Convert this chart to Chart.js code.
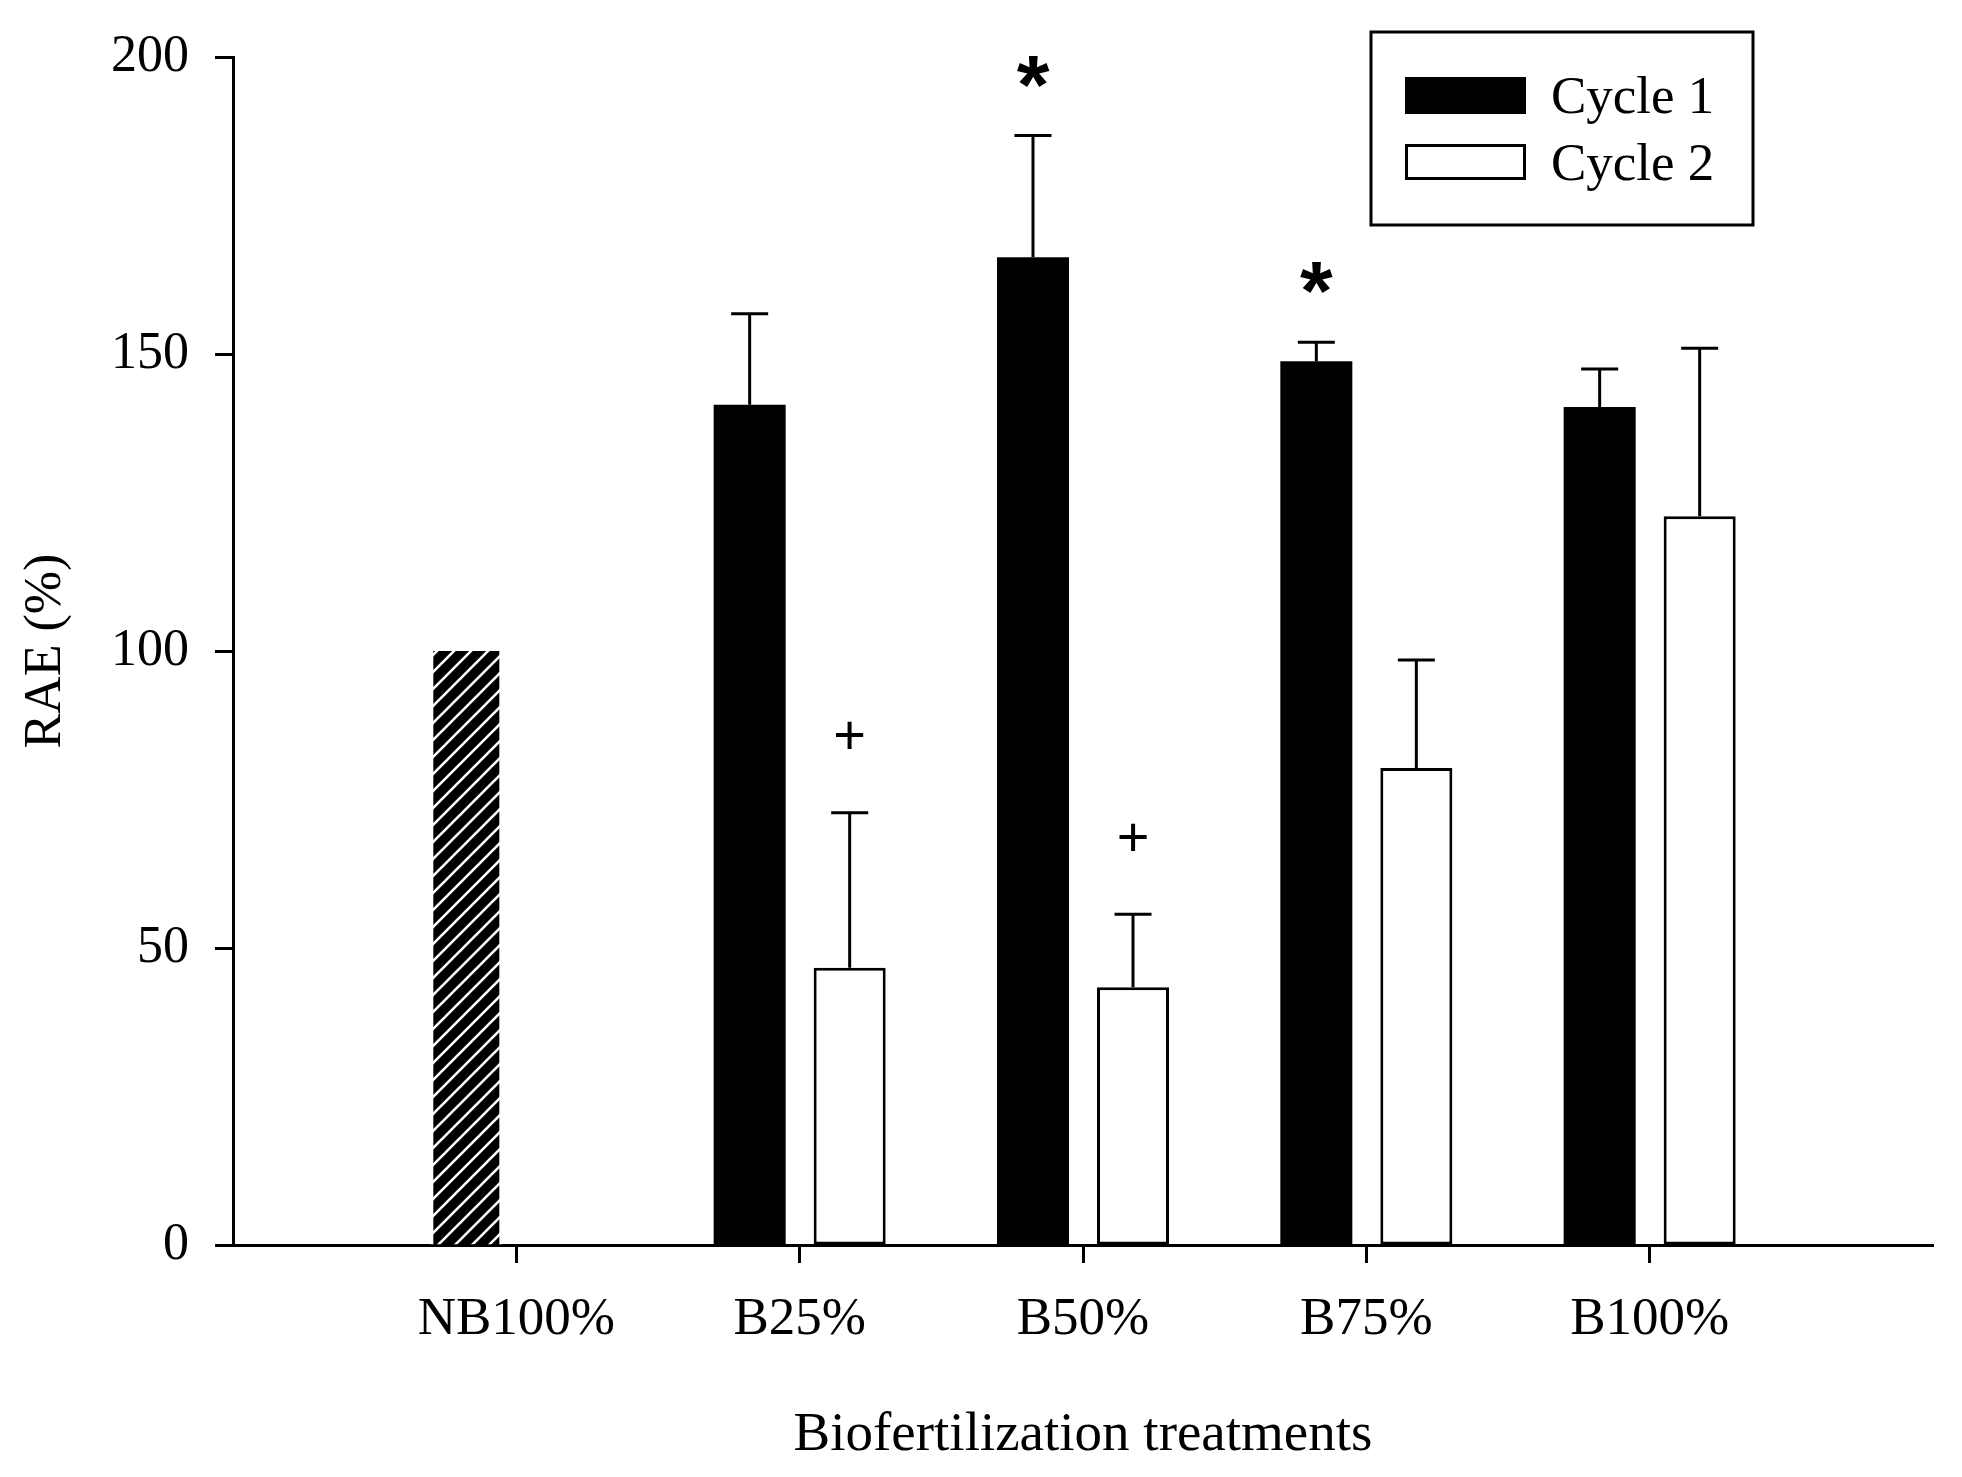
<!DOCTYPE html>
<html>
<head>
<meta charset="utf-8">
<script src="https://cdn.jsdelivr.net/npm/chart.js@4.4.1/dist/chart.umd.min.js"></script>
<style>
    html, body { margin: 0; padding: 0; background: #fff; }
    #wrap { width: 1962px; height: 1477px; }
</style>
</head>
<body>
<div id="wrap"><canvas id="canvas_rae"></canvas></div>
<script>
// data
const categories = ['NB100%', 'B25%', 'B50%', 'B75%', 'B100%'];
const cycle1 = [100, 141.5, 166.3, 148.8, 141.1];
const cycle2 = [null, 46.7, 43.4, 80.3, 122.7];
const cycle1_err = [null, 15.3, 20.5, 3.2, 6.4];
const cycle2_err = [null, 26.1, 12.3, 18.2, 28.3];
const cycle1_marks = ['', '', '*', '*', ''];
const cycle2_marks = ['', '+', '+', '', ''];
const control = 'NB100%';

const serif = "'Liberation Serif', 'Times New Roman', serif";
const sans = "'Liberation Sans', Arial, sans-serif";

// empty slot on each side so the axis runs past the first and last group
function pad(arr) {
    return [null].concat(arr, [null]);
}
const labels = [''].concat(categories, ['']);
const control_index = labels.indexOf(control);

function hatch_pattern() {
    const p = 17;
    const c = document.createElement('canvas');
    c.width = p;
    c.height = p;
    const g = c.getContext('2d');
    g.fillStyle = '#000';
    g.fillRect(0, 0, p, p);
    g.strokeStyle = '#fff';
    g.lineWidth = 2.6;
    g.beginPath();
    g.moveTo(-2, p + 2); g.lineTo(p + 2, -2);
    g.moveTo(-2, 2); g.lineTo(2, -2);
    g.moveTo(p - 2, p + 2); g.lineTo(p + 2, p - 2);
    g.stroke();
    return g.createPattern(c, 'repeat');
}
const hatch = hatch_pattern();

const errors = [pad(cycle1_err), pad(cycle2_err)];
const marks = [pad(cycle1_marks), pad(cycle2_marks)];

const error_bars = {
    id: 'error_bars',
    afterDatasetsDraw(chart) {
        const ctx = chart.ctx;
        const y = chart.scales.y;
        ctx.save();
        ctx.strokeStyle = '#000';
        ctx.lineWidth = 3;
        ctx.lineCap = 'butt';
        chart.data.datasets.forEach((ds, i) => {
            const meta = chart.getDatasetMeta(i);
            meta.data.forEach((bar, j) => {
                const e = errors[i][j];
                if (e == null || ds.data[j] == null) return;
                const top = y.getPixelForValue(ds.data[j] + e);
                ctx.beginPath();
                ctx.moveTo(bar.x, bar.y);
                ctx.lineTo(bar.x, top);
                ctx.moveTo(bar.x - 18.5, top);
                ctx.lineTo(bar.x + 18.5, top);
                ctx.stroke();
                const m = marks[i][j];
                if (m) {
                    ctx.fillStyle = '#000';
                    ctx.textAlign = 'center';
                    if (m === '*') {
                        ctx.font = 'bold 84px ' + sans;
                        ctx.textBaseline = 'alphabetic';
                        ctx.fillText(m, bar.x, top - 68 + 46);
                    } else {
                        ctx.font = '56px ' + sans;
                        ctx.textBaseline = 'middle';
                        ctx.fillText(m, bar.x, top - 74);
                    }
                }
            });
        });
        ctx.restore();
    }
};

const legend_box = {
    id: 'legend_box',
    afterDraw(chart) {
        const ctx = chart.ctx;
        ctx.save();
        ctx.strokeStyle = '#000';
        ctx.lineWidth = 3;
        ctx.strokeRect(1371, 32, 382, 193);
        const rows = [77, 144];
        chart.data.datasets.forEach((ds, i) => {
            const top = rows[i];
            if (i === 0) {
                ctx.fillStyle = '#000';
                ctx.fillRect(1405, top, 121, 37);
            } else {
                ctx.fillStyle = '#fff';
                ctx.fillRect(1406.5, top + 1.5, 118, 33);
                ctx.strokeRect(1406.5, top + 1.5, 118, 33);
            }
            ctx.fillStyle = '#000';
            ctx.font = '53px ' + serif;
            ctx.textAlign = 'left';
            ctx.textBaseline = 'alphabetic';
            ctx.fillText(ds.label, 1551, top + 36);
        });
        ctx.restore();
    }
};

const chart_datas = {
    labels: labels,
    datasets: [
        {
            label: 'Cycle 1',
            data: pad(cycle1),
            backgroundColor: (c) => c.dataIndex === control_index ? hatch : '#000',
            borderColor: (c) => c.dataIndex === control_index ? '#fff' : '#000',
            borderWidth: (c) => c.dataIndex === control_index ? {left: 3, right: 3, top: 0, bottom: 0} : 0,
            borderSkipped: false
        },
        {
            label: 'Cycle 2',
            data: pad(cycle2),
            backgroundColor: '#fff',
            borderColor: '#000',
            borderWidth: 3,
            borderSkipped: false
        }
    ]
};

const options = {
    responsive: true,
    maintainAspectRatio: false,
    devicePixelRatio: 1,
    animation: false,
    layout: {
        padding: {top: 55, right: 29, left: 0, bottom: 0}
    },
    datasets: {
        bar: {
            categoryPercentage: 0.706,
            barPercentage: 0.72
        }
    },
    plugins: {
        legend: {display: false},
        tooltip: {enabled: false}
    },
    scales: {
        x: {
            type: 'category',
            offset: false,
            z: 1,
            border: {display: true, color: '#000', width: 3},
            grid: {
                offset: false,
                drawOnChartArea: false,
                drawTicks: true,
                tickLength: 18,
                tickWidth: 3,
                tickColor: (c) => labels[c.index] ? '#000' : 'rgba(0,0,0,0)'
            },
            ticks: {
                color: '#000',
                font: {family: serif, size: 53},
                padding: 25,
                maxRotation: 0,
                autoSkip: false
            },
            title: {
                display: true,
                text: 'Biofertilization treatments',
                color: '#000',
                font: {family: serif, size: 55},
                padding: {top: 0, bottom: 8}
            },
            afterFit: (scale) => { scale.height = 232; }
        },
        y: {
            min: 0,
            max: 200,
            z: 1,
            border: {display: true, color: '#000', width: 3},
            grid: {
                drawOnChartArea: false,
                drawTicks: true,
                tickLength: 18,
                tickWidth: 3,
                tickColor: '#000'
            },
            ticks: {
                stepSize: 50,
                color: '#000',
                font: {family: serif, size: 52},
                padding: 26
            },
            title: {
                display: true,
                text: 'RAE (%)',
                color: '#000',
                font: {family: serif, size: 52},
                padding: {top: 15, bottom: 0}
            },
            afterFit: (scale) => { scale.width = 233; }
        }
    }
};

const graph = new Chart(document.getElementById('canvas_rae'), {
    type: 'bar',
    data: chart_datas,
    options: options,
    plugins: [error_bars, legend_box]
});
</script>
</body>
</html>
